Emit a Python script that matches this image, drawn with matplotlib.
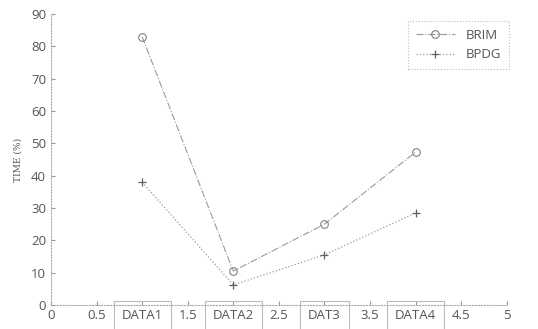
import matplotlib
matplotlib.use("Agg")
import matplotlib.pyplot as plt

x_pos = [1, 2, 3, 4]
brim = [83.0, 10.5, 25.0, 47.3]
bpdg = [38.0, 6.2, 15.5, 28.5]
xtick_vals = [0, 0.5, 1, 1.5, 2, 2.5, 3, 3.5, 4, 4.5, 5]
xtick_labels = ["0", "0.5", "DATA1", "1.5", "DATA2", "2.5", "DAT3", "3.5", "DATA4", "4.5", "5"]
ytick_vals = [0, 10, 20, 30, 40, 50, 60, 70, 80, 90]

plt.rcParams['font.family'] = ['Open Sans', 'DejaVu Sans']

fig = plt.figure(figsize=(5.38, 3.29), dpi=100)
ax = fig.add_axes([0.0948, 0.073, 0.847, 0.884])

ax.plot(x_pos, brim, linestyle='-.', color='#9a9a9a', lw=0.8, marker='o', ms=5.5,
        mfc='none', mec='#808080', mew=0.8, label='BRIM')
ax.plot(x_pos, bpdg, linestyle=':', color='#9a9a9a', lw=0.9, marker='+', ms=5.5,
        mec='#606060', mew=0.9, label='BPDG')

ax.set_xlim(0, 5)
ax.set_ylim(0, 90)
ax.set_xticks(xtick_vals)
ax.set_xticklabels(xtick_labels)
ax.set_yticks(ytick_vals)

for sp in ['top', 'right']:
    ax.spines[sp].set_visible(False)
for sp in ['left', 'bottom']:
    ax.spines[sp].set_color('#aaaaaa')
    ax.spines[sp].set_linestyle(':')
    ax.spines[sp].set_linewidth(0.8)

ax.tick_params(axis='both', direction='in', length=3, color='#999999',
               labelcolor='#555555', labelsize=9.5)
ax.tick_params(axis='x', pad=3)

for lbl in ax.get_xticklabels():
    if lbl.get_text().startswith('DAT'):
        lbl.set_bbox(dict(boxstyle='square,pad=0.6', fc='none', ec='#bbbbbb', lw=0.8))

ax.set_ylabel('TIME (%)', family='DejaVu Serif', fontsize=6.5, color='#555555', labelpad=6)

leg = ax.legend(loc='upper right', bbox_to_anchor=(1.02, 1.0), frameon=True,
                fontsize=9.5, handlelength=3.0, borderpad=0.6, labelspacing=0.5,
                fancybox=False)
leg.get_frame().set_edgecolor('#aaaaaa')
leg.get_frame().set_linestyle(':')
leg.get_frame().set_linewidth(0.8)
for t in leg.get_texts():
    t.set_color('#555555')

fig.savefig('out.png', dpi=100)
